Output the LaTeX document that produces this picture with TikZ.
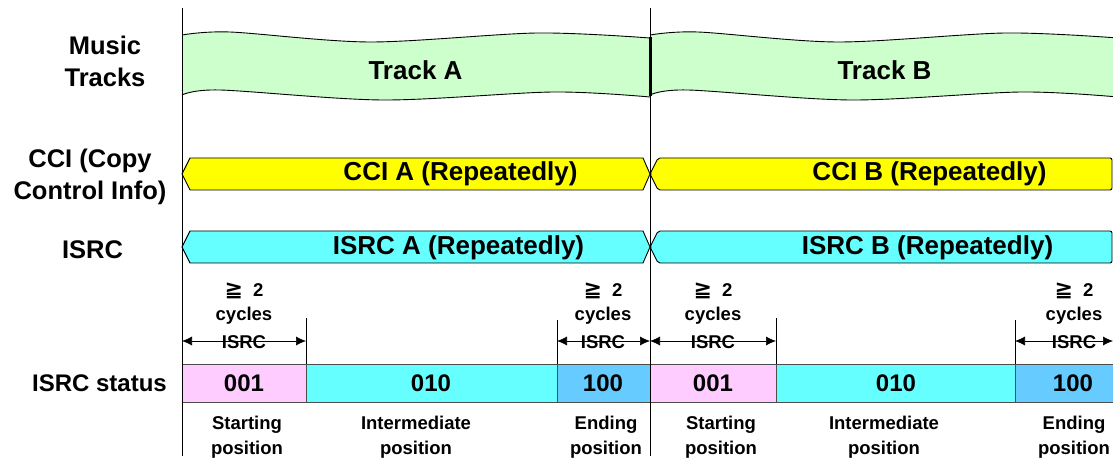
\documentclass[tikz,border=0pt]{standalone}
\usepackage{fontspec}
\setmainfont{Liberation Sans}
\newfontfamily\dejavu{DejaVu Sans}
\usetikzlibrary{arrows.meta}
\definecolor{trk}{HTML}{CCFFCC}
\definecolor{cci}{HTML}{FFFF00}
\definecolor{isrc}{HTML}{66FFFF}
\definecolor{pinkc}{HTML}{FFCCFF}
\definecolor{bluec}{HTML}{66CCFF}
\tikzset{
  big/.style={font=\fontsize{26}{29}\selectfont\bfseries, inner sep=0pt},
  lbl/.style={font=\fontsize{25.5}{32}\selectfont\bfseries, inner sep=0pt, align=center},
  val/.style={font=\fontsize{24}{28}\selectfont\bfseries, inner sep=0pt},
  sml/.style={font=\fontsize{18.5}{25}\selectfont\bfseries, inner sep=0pt, align=center},
  cell/.style={draw=black!70, line width=0.6pt},
  band/.style={draw=black, line width=0.9pt},
  dim/.style={{Latex[length=10pt,width=9pt]}-{Latex[length=10pt,width=9pt]}, line width=0.6pt},
  tick/.style={line width=0.6pt},
  axis/.style={line width=0.6pt}
}
\begin{document}
\begin{tikzpicture}[x=1pt,y=-1pt]
\useasboundingbox (0,0) rectangle (1113,462);
% tracks
\fill[trk] plot[smooth] coordinates {(182,35) (230,32) (370,42) (537,33) (650,38)}
  -- plot[smooth] coordinates {(650,97) (553,92) (383,100) (220,90) (182,95)} -- cycle;
\draw[band] plot[smooth] coordinates {(182,35) (230,32) (370,42) (537,33) (650,38)};
\draw[band] plot[smooth] coordinates {(182,95) (220,90) (383,100) (553,92) (650,97)};
\fill[trk] plot[smooth] coordinates {(650,35) (698,32) (838,42) (1005,33) (1118,38)}
  -- plot[smooth] coordinates {(1118,97) (1021,92) (851,100) (688,90) (650,95)} -- cycle;
\draw[band] plot[smooth] coordinates {(650,35) (698,32) (838,42) (1005,33) (1118,38)};
\draw[band] plot[smooth] coordinates {(650,95) (688,90) (851,100) (1021,92) (1118,97)};
\draw[line width=3pt] (650,37) -- (650,96);
\node[big] (ta) at (415.5,70) {Track A};
\node[big] (tb) at (884.5,70) {Track B};
% CCI
\draw[band, fill=cci] (182,174) -- (190,158) -- (643,158) -- (650,174) -- (643,190) -- (190,190) -- cycle;
\draw[band, fill=cci, rounded corners=2pt] (650,174) -- (658,158) -- (1112,158) -- (1112,190) -- (658,190) -- cycle;
\node[big] (ca) at (460.5,174) {CCI A (Repeatedly)};
\node[big] (cb) at (929.5,174) {CCI B (Repeatedly)};
% ISRC
\draw[band, fill=isrc] (182,247) -- (190,231) -- (643,231) -- (650,247) -- (643,263) -- (190,263) -- cycle;
\draw[band, fill=isrc, rounded corners=2pt] (650,247) -- (658,231) -- (1112,231) -- (1112,263) -- (658,263) -- cycle;
\node[big] (ia) at (458.5,248) {ISRC A (Repeatedly)};
\node[big] (ib) at (927.5,248) {ISRC B (Repeatedly)};
% status cells
\draw[cell, fill=pinkc] (182,364) rectangle (306,402);
\draw[cell, fill=isrc] (306,364) rectangle (557,402);
\draw[cell, fill=bluec] (557,364) rectangle (650,402);
\draw[cell, fill=pinkc] (650,364) rectangle (776,402);
\draw[cell, fill=isrc] (776,364) rectangle (1015,402);
\draw[cell, fill=bluec] (1015,364) rectangle (1114,402);
\node[val] (s1) at (244,383) {001};
\node[val] (s2) at (431,383) {010};
\node[val] (s3) at (603,383) {100};
\node[val] (s4) at (713,383) {001};
\node[val] (s5) at (896,383) {010};
\node[val] (s6) at (1073,383) {100};
% axes
\draw[axis] (182,8) -- (182,456);
\draw[axis] (650,8) -- (650,456);
% ticks
\draw[tick] (306,318) -- (306,364);
\draw[tick] (557,320) -- (557,364);
\draw[tick] (776,318) -- (776,364);
\draw[tick] (1015,320) -- (1015,364);
% dimension labels
\foreach \n/\x in {d1/244, d2/603, d3/713, d4/1074}{
  \node[sml] (\n g) at (\x,291) {{\dejavu\fontsize{22}{25}\selectfont ≧}\hspace{0.55em}2};
  \node[sml] (\n c) at (\x,316) {cycles};
  \node[sml] (\n i) at (\x,342) {ISRC};
}
\coordinate (a1) at (182,341); \coordinate (b1) at (306,341);
\coordinate (a2) at (557,341); \coordinate (b2) at (650,341);
\coordinate (a3) at (650,341); \coordinate (b3) at (776,341);
\coordinate (a4) at (1015,341); \coordinate (b4) at (1113,341);
\draw[dim] (a1) -- (b1);
\draw[dim] (a2) -- (b2);
\draw[dim] (a3) -- (b3);
\draw[dim] (a4) -- (b4);
% position labels
\node[sml] (p1) at (247,437) {Starting\\position};
\node[sml] (p2) at (416,437) {Intermediate\\position};
\node[sml] (p3) at (606,437) {Ending\\position};
\node[sml] (p4) at (721,437) {Starting\\position};
\node[sml] (p5) at (884,437) {Intermediate\\position};
\node[sml] (p6) at (1074,437) {Ending\\position};
% left labels
\node[lbl] (l1) at (105,61) {Music\\Tracks};
\node[lbl] (l2) at (90,177) {CCI (Copy\\Control Info)};
\node[lbl] (l3) at (92.5,250) {ISRC};
\node[val] (l4) at (99.5,383) {ISRC status};
\end{tikzpicture}
\end{document}
